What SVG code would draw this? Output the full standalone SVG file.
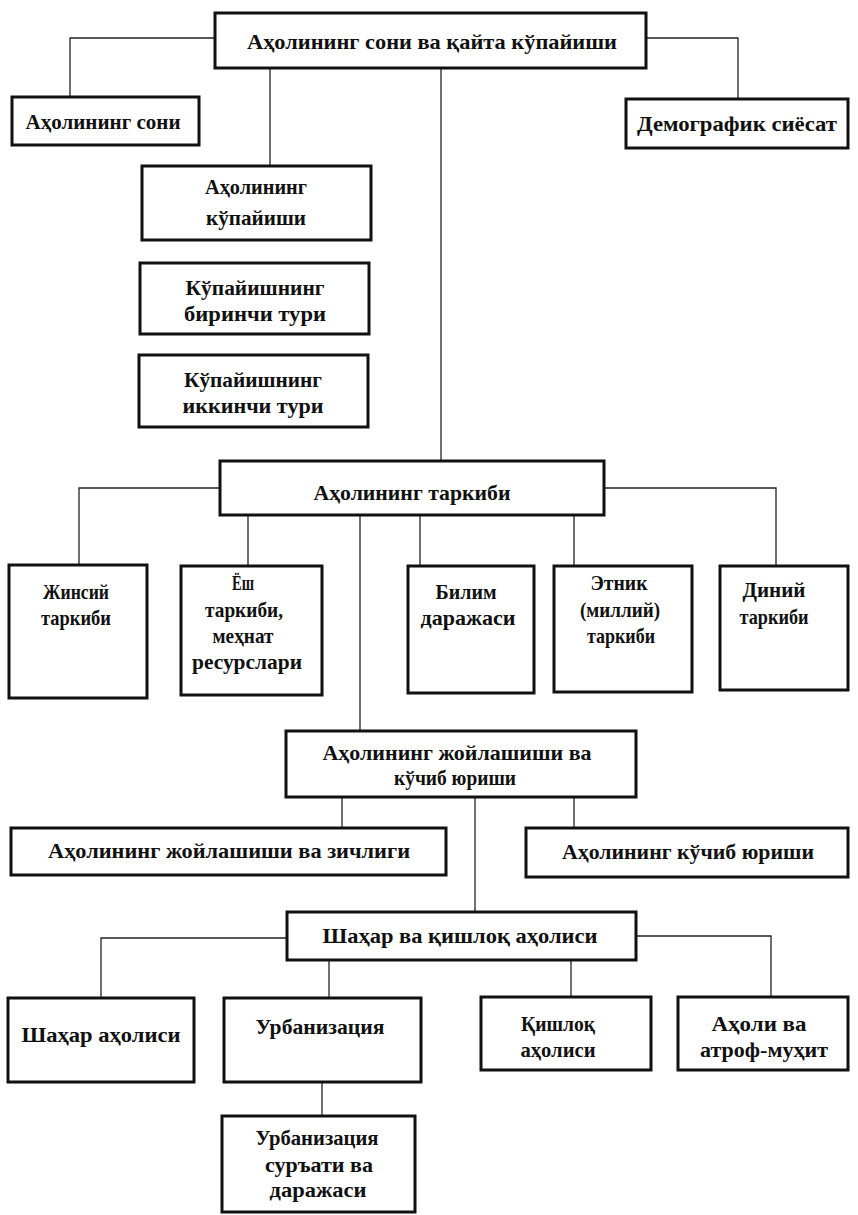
<svg xmlns="http://www.w3.org/2000/svg" width="858" height="1215" viewBox="0 0 858 1215">
<style>
.b{fill:#fff;stroke:#111;stroke-width:3}
.c{fill:none;stroke:#222;stroke-width:1.3}
text{font-family:"Liberation Serif","DejaVu Serif",serif;font-size:22px;font-weight:bold;fill:#111;text-anchor:middle}
</style>
<rect width="858" height="1215" fill="#fff"/>
<g id="connectors">
<path class="c" d="M215,38 H70 V97"/>
<path class="c" d="M646,38 H738 V99"/>
<path class="c" d="M270,68 V166"/>
<path class="c" d="M441,68 V461"/>
<path class="c" d="M220,488 H79 V565"/>
<path class="c" d="M604,488 H776 V566"/>
<path class="c" d="M248,515 V566"/>
<path class="c" d="M360,515 V731"/>
<path class="c" d="M420,515 V566"/>
<path class="c" d="M574,515 V566"/>
<path class="c" d="M342,797 V828"/>
<path class="c" d="M574,797 V828"/>
<path class="c" d="M475,797 V912"/>
<path class="c" d="M287,938 H101 V998"/>
<path class="c" d="M636,936 H771 V997"/>
<path class="c" d="M329,960 V998"/>
<path class="c" d="M571,960 V997"/>
<path class="c" d="M322,1082 V1116"/>
</g>
<g id="n1"><rect class="b" x="215" y="13" width="431" height="55"/><text x="432" y="49" textLength="370" lengthAdjust="spacingAndGlyphs">Аҳолининг сони ва қайта кўпайиши</text></g>
<g id="n2"><rect class="b" x="12" y="97" width="187" height="48"/><text x="103" y="129" textLength="155" lengthAdjust="spacingAndGlyphs">Аҳолининг сони</text></g>
<g id="n3"><rect class="b" x="626" y="99" width="222" height="49"/><text x="737" y="131" textLength="200" lengthAdjust="spacingAndGlyphs">Демографик сиёсат</text></g>
<g id="n4"><rect class="b" x="142" y="166" width="229" height="74"/><text x="256" y="194" textLength="102" lengthAdjust="spacingAndGlyphs">Аҳолининг</text><text x="256" y="225" textLength="100" lengthAdjust="spacingAndGlyphs">кўпайиши</text></g>
<g id="n5"><rect class="b" x="140" y="263" width="229" height="71"/><text x="255" y="295" textLength="139" lengthAdjust="spacingAndGlyphs">Кўпайишнинг</text><text x="255" y="321" textLength="142" lengthAdjust="spacingAndGlyphs">биринчи тури</text></g>
<g id="n6"><rect class="b" x="139" y="355" width="229" height="72"/><text x="253" y="387" textLength="138" lengthAdjust="spacingAndGlyphs">Кўпайишнинг</text><text x="253" y="413" textLength="141" lengthAdjust="spacingAndGlyphs">иккинчи тури</text></g>
<g id="n7"><rect class="b" x="220" y="461" width="384" height="54"/><text x="412" y="500" textLength="197" lengthAdjust="spacingAndGlyphs">Аҳолининг таркиби</text></g>
<g id="n8"><rect class="b" x="9" y="565" width="138" height="133"/><text x="76" y="599" textLength="66" lengthAdjust="spacingAndGlyphs">Жинсий</text><text x="76" y="625" textLength="70" lengthAdjust="spacingAndGlyphs">таркиби</text></g>
<g id="n9"><rect class="b" x="181" y="566" width="141" height="129"/><text x="243" y="590" textLength="22" lengthAdjust="spacingAndGlyphs">Ёш</text><text x="244" y="617" textLength="78" lengthAdjust="spacingAndGlyphs">таркиби,</text><text x="243" y="643" textLength="61" lengthAdjust="spacingAndGlyphs">меҳнат</text><text x="247" y="669" textLength="110" lengthAdjust="spacingAndGlyphs">ресурслари</text></g>
<g id="n10"><rect class="b" x="408" y="566" width="126" height="127"/><text x="466" y="599" textLength="61" lengthAdjust="spacingAndGlyphs">Билим</text><text x="468" y="625" textLength="95" lengthAdjust="spacingAndGlyphs">даражаси</text></g>
<g id="n11"><rect class="b" x="554" y="566" width="138" height="126"/><text x="619" y="590" textLength="57" lengthAdjust="spacingAndGlyphs">Этник</text><text x="620" y="617" textLength="80" lengthAdjust="spacingAndGlyphs">(миллий)</text><text x="621" y="643" textLength="68" lengthAdjust="spacingAndGlyphs">таркиби</text></g>
<g id="n12"><rect class="b" x="720" y="566" width="128" height="124"/><text x="774" y="597" textLength="63" lengthAdjust="spacingAndGlyphs">Диний</text><text x="774" y="624" textLength="69" lengthAdjust="spacingAndGlyphs">таркиби</text></g>
<g id="n13"><rect class="b" x="286" y="731" width="350" height="66"/><text x="457" y="760" textLength="269" lengthAdjust="spacingAndGlyphs">Аҳолининг жойлашиши ва</text><text x="455" y="785" textLength="122" lengthAdjust="spacingAndGlyphs">кўчиб юриши</text></g>
<g id="n14"><rect class="b" x="11" y="828" width="435" height="47"/><text x="229" y="858" textLength="362" lengthAdjust="spacingAndGlyphs">Аҳолининг жойлашиши ва зичлиги</text></g>
<g id="n15"><rect class="b" x="526" y="828" width="322" height="49"/><text x="688" y="859" textLength="252" lengthAdjust="spacingAndGlyphs">Аҳолининг кўчиб юриши</text></g>
<g id="n16"><rect class="b" x="287" y="912" width="349" height="48"/><text x="460" y="943" textLength="275" lengthAdjust="spacingAndGlyphs">Шаҳар ва қишлоқ аҳолиси</text></g>
<g id="n17"><rect class="b" x="8" y="998" width="186" height="84"/><text x="101" y="1042" textLength="159" lengthAdjust="spacingAndGlyphs">Шаҳар аҳолиси</text></g>
<g id="n18"><rect class="b" x="224" y="998" width="197" height="84"/><text x="320" y="1034" textLength="129" lengthAdjust="spacingAndGlyphs">Урбанизация</text></g>
<g id="n19"><rect class="b" x="481" y="997" width="170" height="73"/><text x="558" y="1031" textLength="74" lengthAdjust="spacingAndGlyphs">Қишлоқ</text><text x="558" y="1057" textLength="75" lengthAdjust="spacingAndGlyphs">аҳолиси</text></g>
<g id="n20"><rect class="b" x="678" y="997" width="170" height="73"/><text x="759" y="1031" textLength="95" lengthAdjust="spacingAndGlyphs">Аҳоли ва</text><text x="764" y="1057" textLength="128" lengthAdjust="spacingAndGlyphs">атроф-муҳит</text></g>
<g id="n21"><rect class="b" x="222" y="1116" width="193" height="96"/><text x="317" y="1145" textLength="123" lengthAdjust="spacingAndGlyphs">Урбанизация</text><text x="319" y="1172" textLength="108" lengthAdjust="spacingAndGlyphs">суръати ва</text><text x="318" y="1197" textLength="97" lengthAdjust="spacingAndGlyphs">даражаси</text></g>
</svg>
